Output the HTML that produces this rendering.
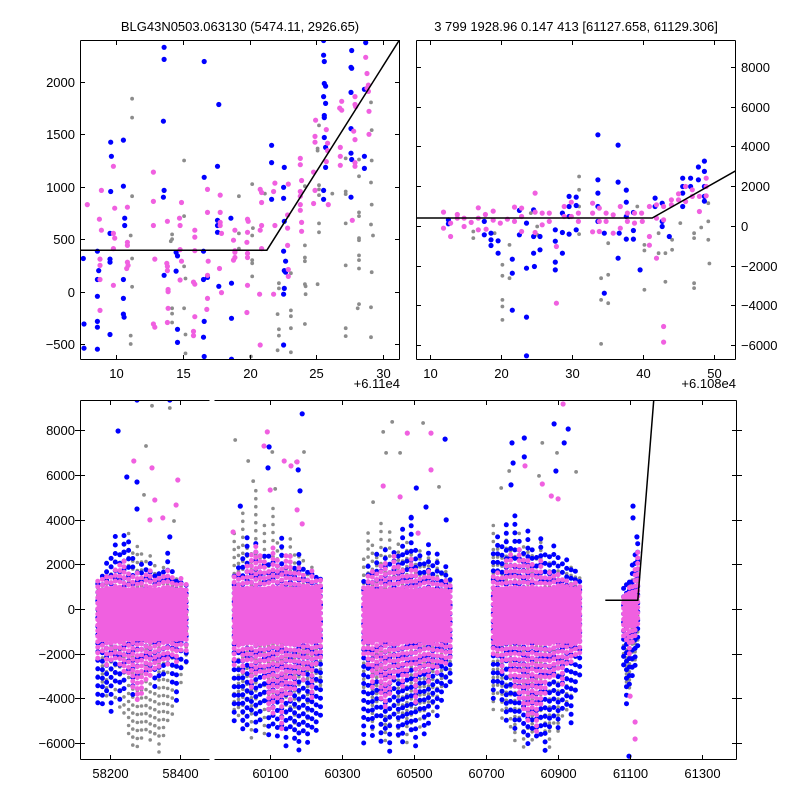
<!DOCTYPE html>
<html><head><meta charset="utf-8">
<style>
html,body{margin:0;padding:0;background:#fff;}
svg{display:block;font-family:"Liberation Sans","DejaVu Sans",sans-serif;}
text{font-size:13px;fill:#000;}
</style></head>
<body>
<svg id="chart" width="800" height="800" viewBox="0 0 800 800" xmlns="http://www.w3.org/2000/svg">
<defs>
<clipPath id="c1"><rect x="80" y="40" width="320" height="320"/></clipPath>
<clipPath id="c2"><rect x="416" y="40" width="320" height="320"/></clipPath>
<clipPath id="c3"><rect x="80" y="400" width="130" height="360"/></clipPath>
<clipPath id="c4"><rect x="214" y="400" width="523" height="360"/></clipPath>
</defs>
<text x="240" y="31" text-anchor="middle">BLG43N0503.063130 (5474.11, 2926.65)</text>
<text x="576" y="31" text-anchor="middle">3 799 1928.96 0.147 413 [61127.658, 61129.306]</text>
<g id="layer"></g>
</svg>
<script>
// ---------- model ----------
const modelLevel = 395, modelBreak = 61121.3, modelSlope = 202, modelStart = 61031, modelEnd = 61170;

// ---------- top-left zoom (x offset 61100) ----------
const tlBlue = [[13.6,2330],[13.6,2215],[16.6,2195],[17.7,1785],[13.55,1625],[9.6,1425],[10.55,1445],[9.65,1290],[17.6,1195],[16.6,1090],[10.55,1005],[9.6,955],[13.6,965],[13.55,900],[10.65,700],[10.65,630],[17.6,680],[17.6,630],[18.6,700],[17.6,565],[9.55,555],[8.6,385],[7.55,315],[9.55,310],[9.55,280],[14.6,340],[14.5,375],[16.55,385],[8.7,200],[8.6,115],[10.55,115],[14.5,195],[13.6,155],[16.55,115],[16.85,135],[17.7,50],[18.65,80],[8.6,-45],[10.55,-65],[10.55,-215],[10.6,-245],[14.6,-360],[7.6,-310],[8.6,-285],[8.6,-340],[9.55,-410],[14.6,-485],[16.6,-285],[16.55,-435],[18.65,-255],[7.6,-540],[8.6,-550],[16.6,-620],[18.65,-645],[21.65,1395],[21.65,1230],[22.6,1185],[21.65,880],[22.55,995],[22.55,890],[22.6,670],[22.55,385],[22.7,290],[22.6,200],[22.7,185],[22.6,30],[22.55,-25],[22.55,-510],[25.55,2395],[25.55,2255],[25.6,2195],[25.6,1985],[25.7,1960],[25.55,1860],[25.7,1795],[25.6,1680],[25.6,1660],[25.6,1470],[25.7,1375],[25.7,1185],[25.55,965],[25.55,880],[27.65,2300],[27.6,2140],[27.65,2130],[27.6,1900],[28.6,1930],[27.6,1555],[27.6,1320],[27.65,1260],[28.6,1290],[28.6,1175],[27.6,900],[28.7,2375]];
const tlPink = [[7.85,830],[8.75,690],[8.9,965],[8.9,585],[9.8,1195],[9.9,795],[9.8,555],[9.9,510],[9.8,410],[8.8,310],[8.8,250],[8.8,115],[9.8,60],[10.85,805],[10.85,470],[10.85,440],[10.85,280],[10.9,250],[10.8,220],[8.8,-180],[12.8,1140],[12.8,860],[12.8,630],[12.9,310],[13.85,670],[13.8,270],[13.85,240],[13.85,200],[13.9,20],[13.9,0],[12.8,-310],[12.9,-340],[13.9,-160],[13.85,-295],[14.75,700],[14.9,850],[14.8,630],[14.8,400],[14.9,290],[14.8,110],[15.9,585],[15.9,520],[15.9,390],[15.8,90],[15.9,70],[15.9,-240],[15.8,-380],[15.8,-420],[16.85,975],[16.85,755],[16.9,290],[16.85,155],[16.85,-65],[16.8,-170],[17.8,920],[17.8,755],[17.8,660],[17.8,630],[17.9,555],[17.75,220],[17.9,-10],[18.9,585],[18.8,490],[18.9,390],[18.9,375],[18.9,325],[18.8,300],[19.85,690],[19.9,670],[19.85,565],[19.8,470],[19.85,365],[19.85,325],[19.85,60],[19.8,-200],[20.8,975],[20.9,945],[20.9,850],[20.9,630],[20.8,585],[20.9,410],[21.9,1035],[21.8,955],[21.9,630],[21.8,-25],[22.9,1025],[22.85,730],[22.85,605],[22.85,440],[22.9,210],[22.9,145],[23.8,1270],[23.8,1210],[23.9,1060],[23.8,955],[23.8,910],[23.8,830],[23.8,775],[23.9,660],[23.9,575],[24.95,1635],[24.9,1480],[24.9,1425],[24.8,1140],[24.9,965],[24.8,840],[25.75,1545],[25.85,1415],[25.85,1345],[25.75,1240],[25.9,830],[26.9,1815],[26.75,1750],[26.9,1730],[26.8,1375],[26.8,1290],[26.8,1205],[27.9,1860],[27.9,1785],[27.95,1765],[27.8,1530],[27.9,1450],[27.9,1230],[27.9,1195],[27.7,680],[28.7,2235],[28.8,2080],[28.9,1970],[28.8,1940],[28.9,1910],[28.95,1720],[28.95,1500],[20.8,-510],[20.75,-25]];
const tlGray = [[11.2,1840],[11.2,1660],[11.2,910],[11.1,535],[11.2,315],[11.2,45],[11.1,-420],[11.1,-500],[14.2,545],[14.2,500],[14.1,480],[15.1,1250],[15.1,720],[15.1,240],[15.2,125],[15.1,-160],[15.2,-410],[15.2,-590],[14.2,-160],[14.2,-210],[14.2,-295],[20.2,1025],[19.2,910],[20.25,605],[19.2,555],[20.2,535],[19.2,410],[20.2,300],[20.2,270],[20.2,145],[20.1,-620],[21.15,935],[22.2,80],[22.2,30],[22.1,-215],[22.2,-360],[22.2,-420],[22.1,-560],[23.1,175],[23.1,-180],[23.1,-235],[23.1,-350],[23.1,-580],[24.15,1005],[24.15,440],[24.15,325],[24.15,290],[24.15,70],[24.2,50],[24.2,-25],[24.15,-310],[25.2,1585],[25.1,1365],[25.1,1345],[25.2,1015],[25.2,975],[25.2,920],[25.2,650],[25.2,565],[25.1,70],[26.2,935],[27.2,1270],[27.2,955],[27.2,930],[27.2,650],[27.2,250],[27.2,-350],[27.2,-425],[28.2,1260],[28.2,1100],[28.2,755],[28.2,720],[28.2,510],[28.2,490],[28.2,345],[28.2,300],[28.2,220],[28.2,-120],[28.1,-160],[29.1,1805],[29.15,1540],[29.15,1250],[29.1,1040],[29.15,830],[29.1,640],[29.25,535],[29.15,185],[29.1,-150],[29.1,-435]];
const tlXTicks = [10,15,20,25,30];
const tlYTicks = [-500,0,500,1000,1500,2000];

// ---------- top-right zoom (x offset 61080) ----------
const trPink = [[11.9,690],[11.9,-120],[12.9,135],[12.9,-540],[13.85,570],[13.85,385],[14.8,385],[14.8,-35],[15.8,170],[16.8,905],[16.8,385],[16.8,-200],[17.8,570],[17.9,-170],[18.9,740],[18.9,285],[19.9,135],[20.9,335],[21.9,940],[21.9,220],[22.9,890],[22.9,470],[22.9,-285],[24.8,1650],[24.8,690],[24.8,-335],[25.8,640],[25.8,50],[26.8,640],[26.8,220],[27.8,-1040],[27.8,-3900],[28.9,975],[28.9,470],[29.9,1190],[29.9,470],[30.9,640],[30.9,220],[32.9,1140],[32.9,640],[32.9,-300],[33.85,890],[33.85,220],[33.85,-285],[34.8,640],[34.8,220],[35.8,555],[35.8,-370],[36.8,975],[36.8,-120],[37.8,640],[37.8,220],[38.8,640],[38.8,135],[39.8,640],[39.9,220],[40.9,975],[40.9,-540],[40.9,-975],[41.9,1060],[41.9,385],[41.9,-1630],[42.9,975],[42.9,300],[42.9,-5070],[42.9,-5860],[44.0,1310],[44.0,1060],[45.0,1610],[45.0,1310],[46.0,1980],[46.0,1225],[46.95,1815],[46.95,1480],[47.95,1480],[47.95,720],[48.9,2400],[48.9,1980],[48.9,1510]];
const trBlue = [[12.6,300],[12.6,100],[17.65,220],[17.65,-455],[18.6,-370],[18.6,-705],[18.6,-990],[19.6,-755],[19.6,-1380],[21.6,-1680],[21.6,-2385],[21.6,-4250],[22.6,775],[22.6,-455],[23.6,-4600],[23.6,-2135],[23.6,135],[24.6,805],[24.6,-540],[24.6,-1380],[24.7,-2050],[25.5,-540],[25.5,-1210],[27.65,-200],[27.65,-775],[27.65,-1830],[27.65,-2220],[28.65,640],[28.65,-335],[28.65,-1380],[29.6,1480],[29.6,975],[29.6,470],[29.6,-420],[30.6,1445],[30.6,1025],[30.6,-200],[33.65,4585],[33.65,2320],[33.65,1650],[33.65,975],[33.65,220],[34.55,-370],[34.55,-3395],[36.5,4065],[36.5,2200],[36.5,-1630],[36.65,-370],[37.65,1800],[37.65,1190],[37.65,470],[37.65,-670],[38.65,670],[38.65,-235],[38.65,-670],[39.6,-2220],[41.7,1395],[41.7,975],[42.7,1140],[42.7,220],[42.7,-35],[43.7,-540],[45.6,2400],[45.6,1980],[45.6,1650],[45.6,975],[46.7,2400],[46.7,1980],[47.8,2960],[47.8,2320],[48.65,3260],[48.65,2740],[48.65,1980],[48.65,1245],[48.65,1480],[23.6,-6550]];
const trGray = [[16.1,-285],[16.1,-620],[19.1,-370],[20.2,-1965],[20.2,-2520],[20.2,-3730],[20.2,-4065],[20.2,-4740],[21.2,-960],[21.2,-2640],[24.2,640],[25.1,-35],[25.1,-455],[31.0,2485],[31.0,1815],[31.0,975],[31.0,-420],[34.1,-2640],[34.1,-3730],[34.1,-5950],[35.1,-2470],[35.1,-3900],[35.1,-875],[39.2,975],[40.2,-960],[40.2,-1245],[40.2,-3225],[42.2,-370],[42.2,-1380],[43.15,-1380],[43.15,-2820],[44.1,-705],[44.1,-1210],[45.25,135],[47.2,-2890],[47.2,-3140],[47.2,-370],[47.2,-620],[48.2,-85],[49.2,220],[49.2,-705],[49.35,-1900],[49.2,1140]];
const trXTicks = [10,20,30,40,50];
const fluxTicks = [-6000,-4000,-2000,0,2000,4000,6000,8000];

// ---------- full light curve: seasons of nightly ranges ----------
const s1Nights = [58165,58178,58190,58203,58215,58228,58240,58253,58265,58278,58290,58303,58315,58328,58340,58353,58365,58378,58390,58403,58418];
const s1GrayLo = [-3000,-3500,-4000,-3800,-4200,-4500,-5000,-5800,-6200,-6500,-6000,-5500,-6200,-5800,-6500,-6000,-5200,-4800,-4000,-3500,-2500];
const s1GrayHi = [1200,1500,1800,2000,2200,2500,3000,3500,2800,3000,2600,2200,2400,2000,1800,2000,1600,1500,1400,1200,1000];
const s1BlueLo = [-4200,-4500,-3800,-4600,-3500,-4200,-3600,-3000,-4000,-3000,-2500,-3000,-2600,-3800,-3200,-3000,-2800,-3500,-4200,-3000,-2600];
const s1BlueHi = [1500,1800,2200,2600,3500,2800,3600,3300,2500,2000,2200,1800,2200,1500,1600,1800,2500,2000,1500,1400,1200];
const s1PinkLo = [-2200,-2000,-2500,-2400,-2200,-2600,-2800,-3000,-3500,-4200,-3800,-3300,-3000,-2800,-2600,-2400,-2500,-2200,-2400,-2000,-1900];
const s1PinkHi = [1300,1400,1500,1600,1800,2000,2200,1800,1600,1700,1400,1600,1800,1500,1400,1600,1800,1500,1300,1400,1200];

const s2Nights = [60000,60012,60024,60036,60048,60060,60072,60084,60096,60108,60120,60132,60144,60156,60168,60180,60192,60204,60216,60228,60240];
const s2GrayLo = [-4500,-5000,-5500,-4800,-6000,-5200,-4500,-5800,-5000,-4800,-5500,-4200,-5000,-4600,-5200,-4800,-4500,-5000,-4200,-3800,-3500];
const s2GrayHi = [3500,2800,4500,3000,2500,5500,2600,3800,2200,4800,3000,2800,2500,3200,2600,2400,2200,1800,2000,1700,1500];
const s2BlueLo = [-5000,-4500,-5500,-5200,-4800,-5600,-5000,-4400,-5800,-5200,-6000,-5400,-6200,-5600,-6000,-6400,-5800,-6200,-5400,-5800,-5000];
const s2BlueHi = [1800,2200,2500,3200,1800,3000,2000,2500,2600,2400,2200,3500,2000,1800,2200,2500,2000,1800,1600,1700,1500];
const s2PinkLo = [-2500,-2000,-2800,-2400,-3500,-3000,-2800,-3200,-4500,-4800,-4000,-5500,-3800,-4200,-3600,-3000,-3200,-2800,-4000,-2600,-2200];
const s2PinkHi = [1500,1800,1600,2000,2500,3000,2400,2200,1800,2800,2200,2000,2600,2500,1800,2000,1600,1500,1800,1400,1300];

const s3Nights = [60360,60372,60384,60396,60408,60420,60432,60444,60456,60468,60480,60492,60504,60516,60528,60540,60552,60564,60576,60588,60600];
const s3GrayLo = [-3500,-4000,-5500,-4500,-5000,-6000,-5500,-4500,-5800,-5000,-6200,-5200,-4800,-5500,-5000,-4500,-4800,-4000,-3800,-3200,-2800];
const s3GrayHi = [2500,3500,3200,2600,4000,3000,3600,2800,3200,2400,3000,2600,2200,2800,2000,2400,1800,2200,1600,1800,1500];
const s3BlueLo = [-6000,-5200,-5800,-4800,-6200,-5500,-6400,-5000,-5800,-6000,-5400,-5600,-6200,-4800,-5800,-5200,-4500,-5000,-4200,-3800,-3500];
const s3BlueHi = [1500,2200,1800,2800,2000,3000,2200,2600,2400,3600,2800,4400,3000,2500,2200,3200,2000,2600,1800,2000,1600];
const s3PinkLo = [-2000,-2600,-3500,-3000,-4000,-4500,-3800,-3200,-2800,-3600,-3000,-2600,-4200,-3000,-2800,-3400,-2600,-3000,-2400,-2600,-2200];
const s3PinkHi = [1200,1500,1800,1600,2000,2200,1800,2500,2000,1800,1600,2400,1800,1500,1600,1800,1500,1400,1300,1400,1200];

const s4Nights = [60720,60732,60744,60756,60768,60780,60792,60804,60816,60828,60840,60852,60864,60876,60888,60900,60912,60924,60936,60948,60960];
const s4GrayLo = [-4500,-4000,-5000,-4800,-5500,-6000,-5200,-6400,-5800,-6200,-5500,-5000,-5800,-6400,-5200,-5800,-5000,-4600,-4200,-3800,-3000];
const s4GrayHi = [4000,3000,2500,3200,2800,2500,3600,3000,2800,2400,2600,3000,2600,2200,2400,2000,2200,1800,2000,1600,1500];
const s4BlueLo = [-4000,-3500,-4200,-5000,-4800,-5500,-5000,-5800,-6200,-5400,-6000,-5800,-6400,-5600,-5000,-5400,-4800,-4500,-5200,-4000,-3200];
const s4BlueHi = [2500,3500,2800,3800,3000,4500,3200,2800,3600,3000,2600,3200,2800,2400,3000,2600,2200,2400,2000,1800,1600];
const s4PinkLo = [-2000,-2200,-2800,-2400,-3000,-3600,-4000,-4600,-5000,-4800,-5500,-4400,-3800,-3200,-3000,-2800,-3400,-2600,-2400,-2200,-2000];
const s4PinkHi = [1500,1800,1600,2200,2500,2000,2800,2400,2200,2000,1800,2200,1600,1800,1500,1600,1400,1500,1300,1400,1200];

const s5Nights = [61082,61090,61098,61106,61114,61121];
const s5GrayLo = [-2000,-3500,-4000,-3000,-2500,-1500];
const s5GrayHi = [800,1000,1200,1500,2000,2500];
const s5BlueLo = [-2500,-4500,-3500,-3000,-2800,-1800];
const s5BlueHi = [1000,1200,1500,2000,2800,3200];
const s5PinkLo = [-1200,-1500,-2000,-1600,-1200,-800];
const s5PinkHi = [600,800,1000,1200,1800,2600];

// season dense cores
const coreStart = [58163,59996,60357,60719,61080];
const coreEnd   = [58420,60242,60600,60965,61122];
const coreLo    = [-1450,-1550,-1500,-1550,-850];
const coreHi    = [950,1000,900,1000,750];

const outBlue = [[58277,9360],[58223,7970],[58248,5910],[58277,5690],[58277,4480],[58371,9360],[58371,3230],[58240,2550],[60189,8740],[60097,7260],[60094,6320],[60017,4610],[60178,6230],[60183,5290],[60586,7610],[60506,5420],[60533,4570],[60589,3990],[60492,4080],[60889,8290],[60928,8060],[60772,7440],[60806,7660],[60775,6540],[60917,7440],[60894,6180],[60769,5560],[60806,6810],[61108,4610],[61108,4080],[61119,3230],[61097,-6590]];
const outPink = [[58268,6630],[58320,6320],[58394,5780],[58389,4660],[58328,4880],[58314,3990],[58351,4080],[60092,7930],[60083,7300],[60139,6630],[60158,6410],[60100,5330],[60175,6590],[60175,4440],[60189,3810],[59997,3450],[60481,7880],[60547,7880],[60547,6230],[60414,5510],[60461,5020],[60511,3400],[60914,9180],[60808,6410],[60856,5600],[60881,5060],[60900,4930],[61114,-5060],[61114,-5820],[61100,-3900]];
const outGray = [[58320,9100],[58303,7300],[58297,5110],[58383,3940],[58371,9000],[60003,7570],[60039,6630],[60053,5730],[60114,5380],[60172,6590],[60194,7030],[60106,7030],[60439,8380],[60414,7930],[60525,8330],[60461,6990],[60422,6990],[60386,4790],[60569,5470],[60856,7440],[60897,6990],[60950,6140],[60764,6180],[60742,5420],[60847,5960]];
const blLeftXTicks = [58200,58400];
const blRightXTicks = [60100,60300,60500,60700,60900,61100,61300];

// ---------- rendering ----------
const NS = 'http://www.w3.org/2000/svg';
const layer = document.getElementById('layer');
const BLUE = '#0000ff', PINK = '#f060e0', GRAY = '#8c8c8c';
function mk(tag, attrs, parent) {
  const e = document.createElementNS(NS, tag);
  for (const k in attrs) e.setAttribute(k, attrs[k]);
  (parent || layer).appendChild(e);
  return e;
}
function lin(d0, d1, r0, r1) { return v => r0 + (v - d0) / (d1 - d0) * (r1 - r0); }
function modelVal(t) { return t < modelBreak ? modelLevel : modelLevel + (t - modelBreak) * modelSlope; }

const P = {
  tl: {x0:80,y0:40,w:320,h:320, xs:lin(7.3,31.27,80,400), ys:lin(2400,-653,40,360), off:61100, clip:'c1'},
  tr: {x0:416,y0:40,w:320,h:320, xs:lin(8.03,53.1,416,736), ys:lin(9360,-6760,40,360), off:61080, clip:'c2'},
  bl: {x0:80,y0:400,w:130,h:360, xs:lin(58114,58486,80,210), ys:lin(9360,-6760,400,760), off:0, clip:'c3'},
  br: {x0:214,y0:400,w:523,h:360, xs:lin(59944,61397,214,737), ys:lin(9360,-6760,400,760), off:0, clip:'c4'}
};

function scatter(p, pts, color, r, name) {
  const g = mk('g', {'clip-path':'url(#'+p.clip+')'});
  
  
  pts.forEach(d => {
    const c = mk('circle', {cx:p.xs(d[0]).toFixed(1), cy:p.ys(d[1]).toFixed(1), r:r, fill:color}, g);
    
    
  });
}
function modelLine(p, name) {
  const pts = [];
  const a = modelStart - p.off, b = modelEnd - p.off;
  [a, modelBreak - p.off, b].forEach(x => pts.push(p.xs(x).toFixed(1) + ',' + p.ys(modelVal(x + p.off)).toFixed(1)));
  const l = mk('polyline', {points:pts.join(' '), fill:'none', stroke:'#000', 'stroke-width':1.5, 'clip-path':'url(#'+p.clip+')'});
  
  
}
function columns(p, nights, lo, hi, color, w, gap, name) {
  const g = mk('g', {'clip-path':'url(#'+p.clip+')', stroke:color, 'stroke-width':w, 'stroke-linecap':'round', 'stroke-dasharray':'0 ' + gap});
  
  
  nights.forEach((t, i) => {
    const x = p.xs(t).toFixed(1);
    const l = mk('line', {x1:x, x2:x, y1:p.ys(lo[i]).toFixed(1), y2:p.ys(hi[i]).toFixed(1), 'stroke-dashoffset':((i * 2.7) % gap).toFixed(1)}, g);
    
    
  });
}

scatter(P.tl, tlGray, GRAY, 1.9, 'tl-gray-points');
scatter(P.tl, tlBlue, BLUE, 2.6, 'tl-blue-points');
scatter(P.tl, tlPink, PINK, 2.6, 'tl-pink-points');
modelLine(P.tl, 'tl-model-line');
scatter(P.tr, trGray, GRAY, 1.9, 'tr-gray-points');
scatter(P.tr, trBlue, BLUE, 2.6, 'tr-blue-points');
scatter(P.tr, trPink, PINK, 2.6, 'tr-pink-points');
modelLine(P.tr, 'tr-model-line');

const seasons = [
  [s1Nights,s1GrayLo,s1GrayHi,s1BlueLo,s1BlueHi,s1PinkLo,s1PinkHi],
  [s2Nights,s2GrayLo,s2GrayHi,s2BlueLo,s2BlueHi,s2PinkLo,s2PinkHi],
  [s3Nights,s3GrayLo,s3GrayHi,s3BlueLo,s3BlueHi,s3PinkLo,s3PinkHi],
  [s4Nights,s4GrayLo,s4GrayHi,s4BlueLo,s4BlueHi,s4PinkLo,s4PinkHi],
  [s5Nights,s5GrayLo,s5GrayHi,s5BlueLo,s5BlueHi,s5PinkLo,s5PinkHi]
];
[P.bl, P.br].forEach((p, pi) => {
  const nm = pi === 0 ? 'bl' : 'br';
  seasons.forEach((s, si) => {
    columns(p, s[0], s[1], s[2], GRAY, 3.6, 8, nm + '-s' + (si+1) + '-gray');
    columns(p, s[0], s[3], s[4], BLUE, 5, 8.5, nm + '-s' + (si+1) + '-blue');
    columns(p, s[0], s[5], s[6], PINK, 5, 5.5, nm + '-s' + (si+1) + '-pink');
    const r = mk('rect', {x:p.xs(coreStart[si]).toFixed(1), y:p.ys(coreHi[si]).toFixed(1),
      width:(p.xs(coreEnd[si]) - p.xs(coreStart[si])).toFixed(1), height:(p.ys(coreLo[si]) - p.ys(coreHi[si])).toFixed(1),
      rx:4, fill:PINK, 'clip-path':'url(#'+p.clip+')'});
    
    
  });
  scatter(p, outGray, GRAY, 1.9, nm + '-gray-outliers');
  scatter(p, outBlue, BLUE, 2.6, nm + '-blue-outliers');
  scatter(p, outPink, PINK, 2.6, nm + '-pink-outliers');
});
modelLine(P.br, 'br-model-line');

function frame(p, name, sides) {
  const g = mk('g', {stroke:'#000', 'stroke-width':1, fill:'none'});
  
  
  const x0=p.x0+0.5, y0=p.y0+0.5, x1=p.x0+p.w-0.5, y1=p.y0+p.h-0.5;
  if (sides.includes('t')) mk('line',{x1:x0,y1:y0,x2:x1,y2:y0},g);
  if (sides.includes('b')) mk('line',{x1:x0,y1:y1,x2:x1,y2:y1},g);
  if (sides.includes('l')) mk('line',{x1:x0,y1:y0,x2:x0,y2:y1},g);
  if (sides.includes('r')) mk('line',{x1:x1,y1:y0,x2:x1,y2:y1},g);
}
function xTicks(p, ticks, name) {
  const g = mk('g', {});
  
  
  ticks.forEach(t => {
    const x = Math.round(p.xs(t)) + 0.5;
    mk('line',{x1:x,x2:x,y1:p.y0+p.h,y2:p.y0+p.h-5,stroke:'#000'},g);
    mk('line',{x1:x,x2:x,y1:p.y0,y2:p.y0+5,stroke:'#000'},g);
    const tx = mk('text',{x:x,y:p.y0+p.h+18,'text-anchor':'middle'},g);
    tx.textContent = String(t);
    
    
  });
}
function yTicks(p, ticks, name, side, labels) {
  const g = mk('g', {});
  
  
  ticks.forEach(t => {
    const y = Math.round(p.ys(t)) + 0.5;
    mk('line',{x1:p.x0,x2:p.x0+5,y1:y,y2:y,stroke:'#000'},g);
    mk('line',{x1:p.x0+p.w,x2:p.x0+p.w-5,y1:y,y2:y,stroke:'#000'},g);
    if (labels) {
      const tx = mk('text', side==='l' ? {x:p.x0-5,y:y+4.5,'text-anchor':'end'} : {x:p.x0+p.w+5,y:y+4.5,'text-anchor':'start'}, g);
      tx.textContent = String(t).replace('-', '\u2212');
      
      
    }
  });
}
frame(P.tl, 'tl-frame', 'tblr');
xTicks(P.tl, tlXTicks, 'tl-x-axis');
yTicks(P.tl, tlYTicks, 'tl-y-axis', 'l', true);
frame(P.tr, 'tr-frame', 'tblr');
xTicks(P.tr, trXTicks, 'tr-x-axis');
yTicks(P.tr, fluxTicks, 'tr-y-axis', 'r', true);
frame(P.bl, 'bl-frame', 'tbl');
xTicks(P.bl, blLeftXTicks, 'bl-x-axis');
yTicks({x0:80,y0:400,w:0,h:360,ys:P.bl.ys}, fluxTicks, 'bl-y-axis', 'l', true);
frame(P.br, 'br-frame', 'tbr');
xTicks(P.br, blRightXTicks, 'br-x-axis');
yTicks({x0:737,y0:400,w:0,h:360,ys:P.br.ys}, fluxTicks, 'br-y-axis', 'r', false);

const o1 = mk('text',{x:400,y:388,'text-anchor':'end'}); o1.textContent = '+6.11e4';


const o2 = mk('text',{x:736,y:388,'text-anchor':'end'}); o2.textContent = '+6.108e4';


</script>
</body></html>
